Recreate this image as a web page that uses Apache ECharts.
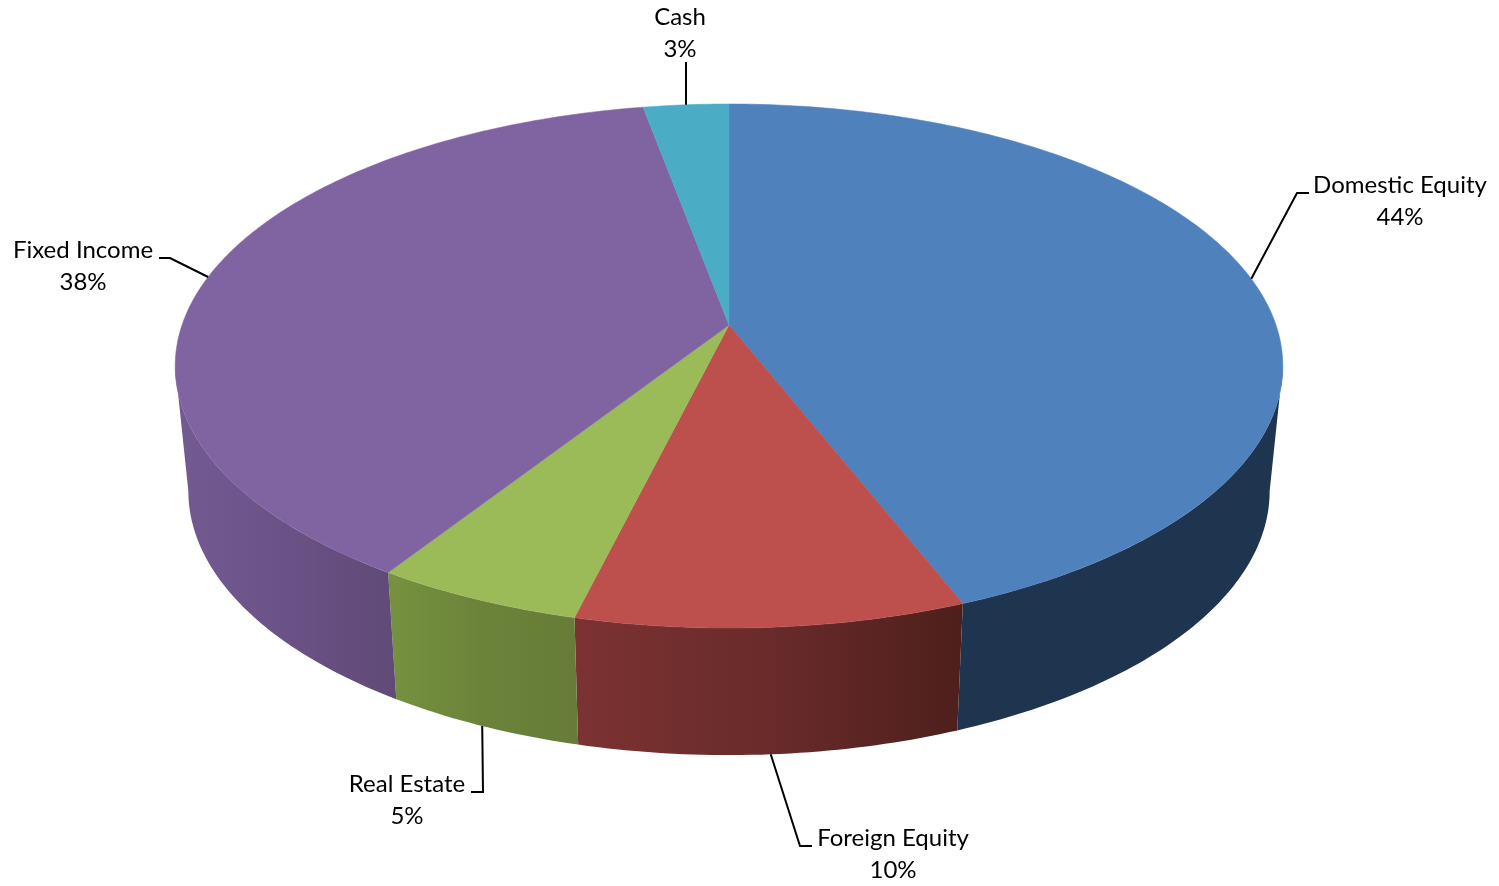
<!DOCTYPE html>
<html>
<head>
<meta charset="utf-8">
<style>html,body{margin:0;padding:0;background:#fff}#c{width:1499px;height:886px}</style>
<script src="https://cdn.jsdelivr.net/npm/echarts@6/dist/echarts.min.js"></script>
</head>
<body>
<div id="c"></div>
<script>
// Data
const categories = ['Domestic Equity', 'Foreign Equity', 'Real Estate', 'Fixed Income', 'Cash'];
const shares = [44.05, 9.8, 5.25, 38, 2.9];

// Styles
const topColors = ['#4f81bd', '#bd4f4c', '#9bbb59', '#8064a2', '#4bacc6'];
const wallStops = [
  ['#1f344f', '#1f344f'],
  ['#7c3232', '#692b2b', '#4e1f1c'],
  ['#76923f', '#6b8339', '#667c38'],
  ['#745a92', '#6a5286', '#604a76'],
  ['#2e6b7c', '#2e6b7c']
];

// Leader-line elbows and label centres (layout only)
const labelLayout = [
  { face: 'top',    elbow: [[1297, 193], [1309, 193]], text: [1400, 201.5] },
  { face: 'bottom', elbow: [[800, 846], [812, 846]],   text: [893, 854] },
  { face: 'bottom', elbow: [[483, 792], [471, 792]],   text: [407, 800] },
  { face: 'top',    elbow: [[170, 258], [159, 258]],   text: [83, 266] },
  { face: 'top',    elbow: [[686, 62]],                text: [680, 33], plumb: true }
];

// Perspective projection of the two disc faces
const persp = 0.1565;
const faces = {
  top:    { cx: 729, cy: 325,   a: 547, b: 255.6 },
  bottom: { cx: 729, cy: 449.7, a: 534, b: 257.6 }
};
// The side wall is visible between the two silhouette points of the disc
const tangentShare = Math.acos(-persp) / (2 * Math.PI) * 100;
const wallFrom = tangentShare, wallTo = 100 - tangentShare;

function project(face, share) {
  const t = share / 100 * 2 * Math.PI, f = faces[face];
  const d = 1 + persp * Math.cos(t);
  return [f.cx + f.a * Math.sin(t) / d, f.cy - f.b * Math.cos(t) / d];
}
function arc(face, s0, s1) {
  const pts = [], n = Math.max(2, Math.ceil((s1 - s0) * 4));
  for (let i = 0; i <= n; i++) pts.push(project(face, s0 + (s1 - s0) * i / n));
  return pts;
}

const total = shares.reduce((a, b) => a + b, 0);
let run = 0;
const spans = shares.map(v => { const s = [run, run + v]; run += v; return s; });
const rows = spans.map((s, i) => [s[0], s[1], i]);

function renderWall(params, api) {
  const s0 = Math.max(api.value(0), wallFrom), s1 = Math.min(api.value(1), wallTo);
  const i = api.value(2);
  if (s1 <= s0) return null;
  const upper = arc('top', s0, s1), lower = arc('bottom', s0, s1);
  const points = upper.concat(lower.slice().reverse());
  const xs = points.map(p => p[0]);
  const x0 = Math.min.apply(null, xs), x1 = Math.max.apply(null, xs);
  const st = wallStops[i];
  return {
    type: 'polygon',
    shape: { points: points },
    style: {
      fill: {
        type: 'linear', x: x0, y: 0, x2: x1, y2: 0, global: true,
        colorStops: st.map((c, k) => ({ offset: k / (st.length - 1), color: c }))
      },
      stroke: null
    }
  };
}
function renderTop(params, api) {
  const s0 = api.value(0), s1 = api.value(1), i = api.value(2);
  const points = [[faces.top.cx, faces.top.cy]].concat(arc('top', s0, s1));
  return {
    type: 'polygon',
    shape: { points: points },
    style: { fill: topColors[i], stroke: topColors[i], lineWidth: 0.5 }
  };
}
function renderLabel(params, api) {
  const s0 = api.value(0), s1 = api.value(1), i = api.value(2);
  const lay = labelLayout[i];
  const start = project(lay.face, (s0 + s1) / 2);
  if (lay.plumb) start[0] = lay.elbow[0][0];
  return {
    type: 'group',
    children: [
      {
        type: 'polyline',
        shape: { points: [start].concat(lay.elbow) },
        style: { stroke: '#000', lineWidth: 2, fill: null }
      },
      {
        type: 'text',
        x: lay.text[0], y: lay.text[1],
        style: {
          text: categories[i] + '\n' + Math.round(shares[i] / total * 100) + '%',
          align: 'center', verticalAlign: 'middle',
          font: '24px Lato', lineHeight: 32, fill: '#000'
        }
      }
    ]
  };
}
const chart = echarts.init(document.getElementById('c'), null, { width: 1499, height: 886 });
chart.setOption({
  animation: false,
  backgroundColor: '#fff',
  series: [
    { type: 'custom', coordinateSystem: 'none', z: 1, data: rows, renderItem: renderWall, silent: true },
    { type: 'custom', coordinateSystem: 'none', z: 2, data: rows, renderItem: renderTop, silent: true },
    { type: 'custom', coordinateSystem: 'none', z: 3, data: rows, renderItem: renderLabel, silent: true }
  ]
});
</script>
</body>
</html>
